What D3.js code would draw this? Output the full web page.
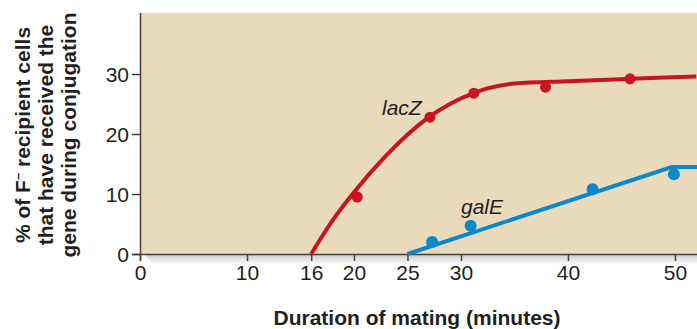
<!DOCTYPE html>
<html lang="en">
<head>
    <meta charset="UTF-8">
    <title>Conjugation</title>
    <script src="https://d3js.org/d3.v7.min.js"></script>
</head>
<style>
    body { margin: 0; background: white; }
    svg { display: block; font-family: "Liberation Sans", Arial, sans-serif; }
    .tick text { font-size: 21px; fill: #231f20; }
    .tick line, .domain { stroke: #4a4036; stroke-width: 1.5; }
    .title { font-size: 21px; font-weight: bold; fill: #231f20; }
    .gene { font-size: 21px; font-style: italic; fill: #231f20; }
</style>
<body>
<div id="chart"></div>
<script>
    // ticks
    const xTicks = [0, 10, 16, 20, 25, 30, 40, 50]
    const yTicks = [0, 10, 20, 30]
    // measured points
    const lacZTime = [20.3, 27.1, 31.2, 37.9, 45.8]
    const lacZPct = [9.5, 22.8, 26.8, 27.8, 29.2]
    const galETime = [27.3, 30.9, 42.3, 49.9]
    const galEPct = [2.0, 4.7, 10.8, 13.3]
    // fitted curves
    const lacZCurveTime = [16, 18, 20, 23, 27, 31, 35, 40, 46, 52]
    const lacZCurvePct = [0, 5.6, 10.3, 16.4, 22.8, 26.7, 28.4, 28.8, 29.2, 29.6]
    const galECurveTime = [25, 49.7, 52.1]
    const galECurvePct = [0, 14.5, 14.5]

    const W = 697, H = 329
    const svg = d3.select("#chart").append("svg")
        .attr("width", W).attr("height", H)

    const x = d3.scaleLinear().domain([0, 52.06]).range([140, 697])
    const y = d3.scaleLinear().domain([0, 40.17]).range([254, 13])

    // shadow under the plot
    const grad = svg.append("defs").append("linearGradient")
        .attr("id", "shade").attr("x1", 0).attr("y1", 0).attr("x2", 0).attr("y2", 1)
    grad.append("stop").attr("offset", 0).attr("stop-color", "#c9c9c9")
    grad.append("stop").attr("offset", 1).attr("stop-color", "#ffffff")
    svg.append("path")
        .attr("d", `M${x(0) + 4},${y(0)} L${W},${y(0)} L${W},${y(0) + 11} L${x(0) + 14},${y(0) + 11} Z`)
        .attr("fill", "url(#shade)")

    // plot background
    svg.append("rect")
        .attr("x", x(0)).attr("y", y.range()[1])
        .attr("width", W - x(0)).attr("height", y(0) - y.range()[1])
        .attr("fill", "#eadabc")

    // axes
    svg.append("g")
        .attr("transform", `translate(0,${y(0)})`)
        .call(d3.axisBottom(x).tickValues(xTicks).tickSize(7).tickSizeOuter(0).tickPadding(4))
        .call(g => g.select(".domain").attr("d", `M${x(0) - 8},0.5H${W}`))
    svg.append("g")
        .attr("transform", `translate(${x(0)},0)`)
        .call(d3.axisLeft(y).tickValues(yTicks).tickSize(8).tickSizeOuter(0).tickPadding(3))
        .call(g => g.select(".domain").attr("d", `M0.5,${y.range()[1]}V${y(0) + 7}`))
        .selectAll(".tick text").attr("dy", "0.36em")

    const line = d3.line().x(d => x(d[0])).y(d => y(d[1]))

    // lacZ
    svg.append("path")
        .datum(lacZCurveTime.map((t, i) => [t, lacZCurvePct[i]]))
        .attr("fill", "none").attr("stroke", "#c8141e").attr("stroke-width", 4)
        .attr("d", line.curve(d3.curveMonotoneX))
    svg.append("g").selectAll("circle")
        .data(lacZTime.map((t, i) => [t, lacZPct[i]]))
        .join("circle")
        .attr("cx", d => x(d[0])).attr("cy", d => y(d[1]))
        .attr("r", 5.5).attr("fill", "#c8141e")

    // galE
    svg.append("path")
        .datum(galECurveTime.map((t, i) => [t, galECurvePct[i]]))
        .attr("fill", "none").attr("stroke", "#0b88ca").attr("stroke-width", 4)
        .attr("d", line.curve(d3.curveLinear))
    svg.append("g").selectAll("circle")
        .data(galETime.map((t, i) => [t, galEPct[i]]))
        .join("circle")
        .attr("cx", d => x(d[0])).attr("cy", d => y(d[1]))
        .attr("r", 6).attr("fill", "#0b88ca")

    // labels
    svg.append("text").attr("class", "gene").attr("x", 382).attr("y", 115).text("lacZ")
    svg.append("text").attr("class", "gene").attr("x", 461).attr("y", 214).text("galE")

    svg.append("text").attr("class", "title")
        .attr("x", 417).attr("y", 325).attr("text-anchor", "middle")
        .text("Duration of mating (minutes)")

    const yTitle = svg.append("text").attr("class", "title")
        .attr("transform", "translate(30,135) rotate(-90)")
        .attr("text-anchor", "middle")
    const l1 = yTitle.append("tspan").attr("x", 0).attr("y", 0)
    l1.append("tspan").text("% of F")
    l1.append("tspan").attr("font-size", "13px").attr("dy", "-8").text("\u2013")
    l1.append("tspan").attr("dy", "8").text(" recipient cells")
    yTitle.append("tspan").attr("x", 0).attr("y", 23).text("that have received the")
    yTitle.append("tspan").attr("x", 0).attr("y", 46).text("gene during conjugation")
</script>
</body>
</html>
